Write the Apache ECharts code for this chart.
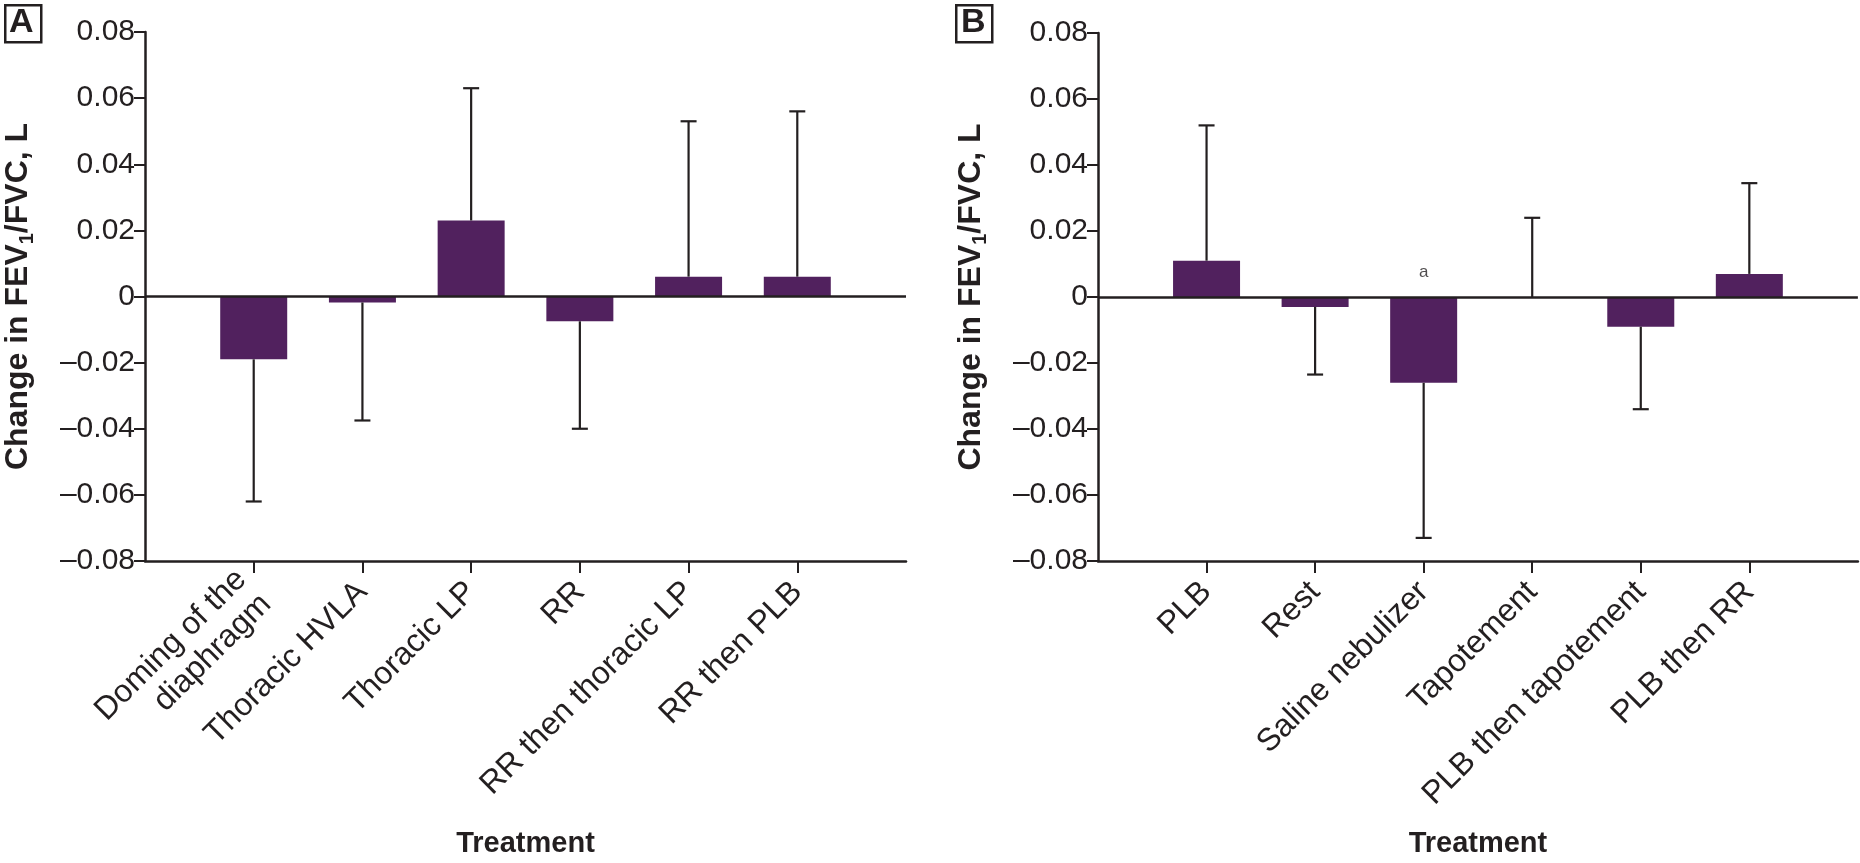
<!DOCTYPE html>
<html>
<head>
<meta charset="utf-8">
<script src="https://cdn.jsdelivr.net/npm/echarts@6/dist/echarts.min.js"></script>
<style>
  html, body { margin: 0; padding: 0; background: #ffffff; }
  #chart { width: 1860px; height: 863px; }
</style>
</head>
<body>
<div id="chart"></div>
<script>
// ---- Data ----
const categoriesA = ['Doming of the\ndiaphragm', 'Thoracic HVLA', 'Thoracic LP', 'RR', 'RR then thoracic LP', 'RR then PLB'];
const meansA = [-0.019, -0.0018, 0.023, -0.0075, 0.006, 0.006];
const errorEndA = [-0.062, -0.0375, 0.063, -0.040, 0.053, 0.056];

const categoriesB = ['PLB', 'Rest', 'Saline nebulizer', 'Tapotement', 'PLB then tapotement', 'PLB then RR'];
const meansB = [0.011, -0.003, -0.026, 0, -0.009, 0.007];
const errorEndB = [0.052, -0.0235, -0.073, 0.024, -0.034, 0.0345];
const annotationB = [null, null, 'a', null, null, null];
const annotationValueB = [null, null, 0.0075, null, null, null];

const yMin = -0.08, yMax = 0.08, yStep = 0.02;
const panelLetters = ['A', 'B'];
const yTitle = '{a|Change in FEV}{s|1}{a|/FVC, L}';
const xTitle = 'Treatment';

// ---- Styles ----
const INK = '#231f20';
const BAR = '#51215e';
const FONT = "'Liberation Sans', Arial, Helvetica, sans-serif";

const chart = echarts.init(document.getElementById('chart'), null, { renderer: 'canvas' });

function padCats(cats) { return [''].concat(cats, ['']); }
function padVals(vals) { return [null].concat(vals, [null]); }

function yLabel(v) {
  if (Math.abs(v) < 1e-9) return '0';
  const s = Math.abs(v).toFixed(2);
  return v < 0 ? '\u2013' + s : s;
}

function makeAxes(idx) {
  const cats = idx === 0 ? categoriesA : categoriesB;
  const xAxis = {
    type: 'category', gridIndex: idx, data: padCats(cats), boundaryGap: false,
    axisLine: { onZero: false, lineStyle: { color: INK, width: 2.5 } },
    axisTick: { show: true, length: 12, inside: false, lineStyle: { color: INK, width: 2 },
      interval: function (i) { return i > 0 && i < cats.length + 1; } },
    axisLabel: { interval: 0, rotate: 45, fontSize: 32, color: INK, fontFamily: FONT, margin: 26, lineHeight: 35 },
    splitLine: { show: false },
    name: xTitle, nameLocation: 'middle', nameGap: 268,
    nameTextStyle: { fontSize: 29, fontWeight: 'bold', color: INK, fontFamily: FONT }
  };
  const yAxis = {
    type: 'value', gridIndex: idx, min: yMin, max: yMax, interval: yStep,
    axisLine: { show: true, lineStyle: { color: INK, width: 2.5 } },
    axisTick: { show: true, length: 11, lineStyle: { color: INK, width: 2 } },
    axisLabel: { formatter: yLabel, fontSize: 30, color: INK, fontFamily: FONT, margin: 10 },
    splitLine: { show: false },
    name: yTitle, nameLocation: 'middle', nameGap: 108,
    nameTextStyle: {
      color: INK, fontFamily: FONT,
      rich: {
        a: { fontSize: 32, fontWeight: 'bold', color: INK, fontFamily: FONT, lineHeight: 38, verticalAlign: 'middle' },
        s: { fontSize: 20, fontWeight: 'bold', color: INK, fontFamily: FONT, lineHeight: 15, verticalAlign: 'bottom' }
      }
    }
  };
  return { xAxis, yAxis };
}

function errorSeries(idx, means, ends) {
  const data = means.map((m, i) => [i + 1, m, ends[i]]);
  return {
    type: 'custom', xAxisIndex: idx, yAxisIndex: idx, z: 5, silent: true,
    data: data,
    renderItem: function (params, api) {
      const x = api.value(0);
      const p0 = api.coord([x, api.value(1)]);
      const p1 = api.coord([x, api.value(2)]);
      const cap = 8;
      return {
        type: 'group',
        children: [
          { type: 'line', shape: { x1: p0[0], y1: p0[1], x2: p1[0], y2: p1[1] }, style: { stroke: INK, lineWidth: 2.2 } },
          { type: 'line', shape: { x1: p1[0] - cap, y1: p1[1], x2: p1[0] + cap, y2: p1[1] }, style: { stroke: INK, lineWidth: 2.2 } }
        ]
      };
    }
  };
}

function barSeries(idx, means) {
  return {
    type: 'bar', xAxisIndex: idx, yAxisIndex: idx, data: padVals(means), barWidth: 67,
    itemStyle: { color: BAR }, silent: true, z: 2,
    markLine: {
      silent: true, symbol: ['none', 'none'], label: { show: false },
      lineStyle: { color: INK, width: 2.5, type: 'solid' },
      data: [{ yAxis: 0 }], animation: false, z: 6
    }
  };
}

const axA = makeAxes(0), axB = makeAxes(1);

const annData = annotationB.map((t, i) => t ? { value: [i + 1, annotationValueB[i]], name: t } : null).filter(Boolean);

const option = {
  animation: false,
  backgroundColor: '#ffffff',
  textStyle: { fontFamily: FONT },
  grid: [
    { left: 145, right: 954, top: 32, bottom: 299, containLabel: false },
    { left: 1098, right: 0, top: 33, bottom: 296, containLabel: false }
  ],
  xAxis: [axA.xAxis, axB.xAxis],
  yAxis: [axA.yAxis, axB.yAxis],
  series: [
    barSeries(0, meansA),
    errorSeries(0, meansA, errorEndA),
    barSeries(1, meansB),
    errorSeries(1, meansB, errorEndB),
    {
      type: 'scatter', xAxisIndex: 1, yAxisIndex: 1, symbolSize: 1, itemStyle: { color: 'rgba(0,0,0,0)' },
      data: annData, silent: true,
      label: { show: true, position: 'inside', formatter: '{b}', fontSize: 17, color: INK, fontFamily: FONT }
    }
  ],
  graphic: [
    { type: 'rect', left: 4, top: 4, shape: { width: 36, height: 37 }, style: { fill: '#fff', stroke: INK, lineWidth: 2.5 } },
    { type: 'text', left: 9, top: 6, style: { text: panelLetters[0], font: "bold 34px 'Liberation Sans', Arial, sans-serif", fill: INK } },
    { type: 'rect', left: 955, top: 4, shape: { width: 36, height: 37 }, style: { fill: '#fff', stroke: INK, lineWidth: 2.5 } },
    { type: 'text', left: 961, top: 6, style: { text: panelLetters[1], font: "bold 34px 'Liberation Sans', Arial, sans-serif", fill: INK } }
  ]
};

chart.setOption(option);
</script>
</body>
</html>
